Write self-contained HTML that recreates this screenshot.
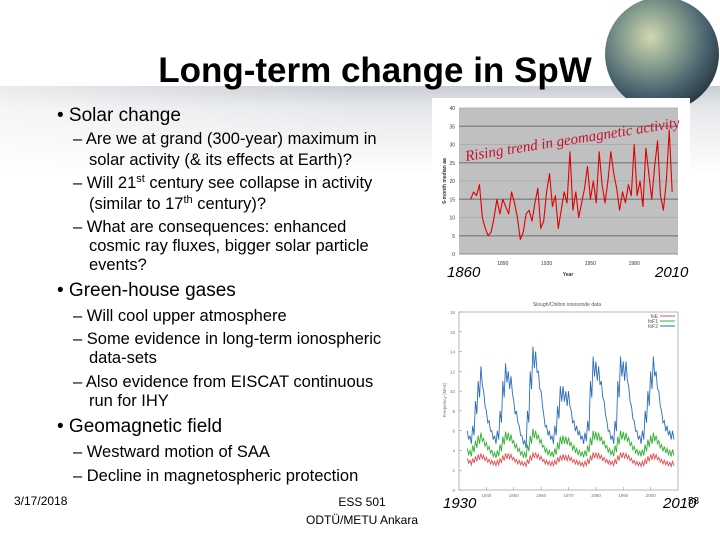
<!DOCTYPE html>
<html><head><meta charset="utf-8"><style>
html,body{margin:0;padding:0;background:#fff}
svg{display:block;font-family:"Liberation Sans",sans-serif}
</style></head><body>
<svg id="s" width="720" height="540" viewBox="0 0 720 540">
<defs>
<linearGradient id="band" x1="0" y1="0" x2="0" y2="1"><stop offset="0" stop-color="#c9cdd2"/><stop offset="0.25" stop-color="#e6e8eb"/><stop offset="1" stop-color="#ffffff"/></linearGradient>
<linearGradient id="bandh" x1="0" y1="0" x2="1" y2="0"><stop offset="0" stop-color="#fff" stop-opacity="0.6"/><stop offset="0.5" stop-color="#fff" stop-opacity="0"/></linearGradient>
<radialGradient id="globe" cx="0.4" cy="0.35" r="0.7"><stop offset="0" stop-color="#d0d8b0"/><stop offset="0.35" stop-color="#8aa090"/><stop offset="0.7" stop-color="#4a6470"/><stop offset="1" stop-color="#26343a"/></radialGradient>
</defs>
<rect x="0" y="86" width="720" height="90" fill="url(#band)"/>
<rect x="0" y="86" width="720" height="90" fill="url(#bandh)"/>
<circle cx="662" cy="54" r="57" fill="url(#globe)"/>
<text x="375" y="82" text-anchor="middle" font-size="35" font-weight="bold" fill="#000">Long-term change in SpW</text>

<g fill="#000">
<text x="57" y="121" font-size="19">• Solar change</text>
<g font-size="16.5">
<text x="73" y="144">– Are we at grand (300-year) maximum in</text>
<text x="89" y="165">solar activity (&amp; its effects at Earth)?</text>
<text x="73" y="188">– Will 21<tspan font-size="11" dy="-6">st</tspan><tspan dy="6"> century see collapse in activity</tspan></text>
<text x="89" y="209">(similar to 17<tspan font-size="11" dy="-6">th</tspan><tspan dy="6"> century)?</tspan></text>
<text x="73" y="232">– What are consequences: enhanced</text>
<text x="89" y="251">cosmic ray fluxes, bigger solar particle</text>
<text x="89" y="270">events?</text>
</g>
<text x="57" y="296" font-size="19">• Green-house gases</text>
<g font-size="16.5">
<text x="73" y="321">– Will cool upper atmosphere</text>
<text x="73" y="344">– Some evidence in long-term ionospheric</text>
<text x="89" y="363">data-sets</text>
<text x="73" y="387">– Also evidence from EISCAT continuous</text>
<text x="89" y="406">run for IHY</text>
</g>
<text x="57" y="432" font-size="19">• Geomagnetic field</text>
<g font-size="16.5">
<text x="73" y="457">– Westward motion of SAA</text>
<text x="73" y="481">– Decline in magnetospheric protection</text>
</g>
</g>
<text x="14" y="505" font-size="12">3/17/2018</text>
<text x="362" y="506" font-size="12" text-anchor="middle">ESS 501</text>
<text x="362" y="524" font-size="12" text-anchor="middle">ODTÜ/METU Ankara</text>

<!-- top chart -->
<rect x="432" y="98" width="258" height="186" fill="#fff"/>
<rect x="459" y="108" width="219" height="146" fill="#c0c0c0"/>
<g id="c1"></g>
<text x="0" y="0" transform="translate(466,161) rotate(-9)" font-family="Liberation Serif,serif" font-style="italic" font-size="15" fill="#c8102e">Rising trend in geomagnetic activity</text>
<text x="447" y="277" font-size="15" font-style="italic">1860</text>
<text x="655" y="277" font-size="15" font-style="italic">2010</text>

<!-- bottom chart -->
<rect x="438" y="294" width="254" height="212" fill="#fff"/>
<text x="567" y="306" font-size="5" text-anchor="middle" fill="#555">Slough/Chilton ionosonde data</text>
<rect x="459" y="312" width="219" height="178" fill="none" stroke="#888" stroke-width="0.6"/>
<g id="c2"></g>
<g font-size="5" fill="#555">
<text x="658" y="318" text-anchor="end">foE</text><line x1="660" y1="316" x2="675" y2="316" stroke="#e05050"/>
<text x="658" y="323" text-anchor="end">foF1</text><line x1="660" y1="321" x2="675" y2="321" stroke="#30b030"/>
<text x="658" y="328" text-anchor="end">foF2</text><line x1="660" y1="326" x2="675" y2="326" stroke="#2c6fb8"/>
</g>
<text x="443" y="508" font-size="15" font-style="italic">1930</text>
<text x="663" y="508" font-size="15" font-style="italic">2010</text>
<text x="688" y="504" font-size="10">58</text>
</svg>
<script>
const NS="http://www.w3.org/2000/svg";
// top chart data
const geoYears=[1868,1870,1872,1874,1876,1878,1880,1882,1884,1886,1888,1890,1892,1894,1896,1898,1900,1902,1904,1906,1908,1910,1912,1914,1916,1918,1920,1922,1924,1926,1928,1930,1932,1934,1936,1938,1940,1942,1944,1946,1948,1950,1952,1954,1956,1958,1960,1962,1964,1966,1968,1970,1972,1974,1976,1978,1980,1982,1984,1986,1988,1990,1992,1994,1996,1998,2000,2002,2004,2006];
const geoValues=[15,17,16,19,10,7,5,6,10,15,11,15,13,11,17,14,10,4,6,11,12,9,14,18,7,9,17,22,13,16,7,12,17,14,28,12,17,10,14,18,24,15,20,14,28,19,14,20,28,22,18,12,17,14,19,16,30,16,20,13,29,22,15,24,31,16,12,20,34,17];
const geoYTicks=[0,5,10,15,20,25,30,35,40];
const geoXTicks=[1890,1920,1950,1980];
// bottom chart data
const ionoYears=[];for(let y=1933;y<=2008;y++)ionoYears.push(y);
const foF2=[6,5.5,6.5,9,11,12.5,10,8,7,6,5.5,6,8,11,12.8,12,11.5,9,8,6.5,5.5,5,8,12,14.5,14,12,10,7.5,6.5,6,5.5,6.5,8.5,10.5,10.5,10,10,8,7,6.5,6,5.5,5.8,7,11,13.5,13,12.5,11,9,7,6,5.5,7,11,13.5,13,13,10.5,8.5,7,6,5.5,6,8,10,12,13.5,12,10,8,7,6.5,6,6];
const foF1=[4.2,4,4.5,5,5.5,5.8,5.2,4.8,4.4,4,3.8,4,4.6,5.4,5.9,5.8,5.6,5,4.6,4.2,3.9,3.8,4.6,5.5,6.2,6,5.6,5.1,4.5,4.2,4,3.9,4.2,4.8,5.4,5.5,5.4,5.3,4.8,4.5,4.2,4,3.9,4,4.5,5.3,6,5.9,5.8,5.4,5,4.5,4.2,4,4.5,5.4,6,5.9,5.8,5.3,4.8,4.4,4.1,4,4.1,4.6,5.1,5.5,5.8,5.5,5,4.6,4.4,4.2,4,4.1];
const foE=[3.2,3,3.2,3.4,3.6,3.7,3.5,3.3,3.1,3,2.9,3,3.2,3.5,3.7,3.7,3.6,3.3,3.1,3,2.9,2.8,3.1,3.5,3.8,3.8,3.6,3.4,3.1,3,2.9,2.9,3,3.3,3.5,3.6,3.5,3.5,3.3,3.1,3,2.9,2.8,2.9,3.1,3.5,3.8,3.8,3.7,3.5,3.3,3.1,3,2.9,3.1,3.5,3.8,3.8,3.7,3.5,3.2,3,2.9,2.8,2.9,3.1,3.4,3.6,3.7,3.6,3.3,3.1,3,2.9,2.8,2.9];
const ionoYTickLabels=["0","2","4","6","8","10","12","14","16","18"];
const ionoXTicks=[1940,1950,1960,1970,1980,1990,2000];

function el(t,a,p){const e=document.createElementNS(NS,t);for(const k in a)e.setAttribute(k,a[k]);p.appendChild(e);return e;}
// chart 1
const c1=document.getElementById('c1');
const x1=y=>459+(y-1860)*(219/150), y1=v=>254-v*(146/40);
geoYTicks.forEach(t=>{
  const l=el('line',{x1:459,x2:678,y1:y1(t),y2:y1(t),stroke:t%10===5?'#888':'#a8a8a8','stroke-width':t%10===5?1.5:0.7},c1);
  
  
  const tx=el('text',{x:455,y:y1(t)+2,'font-size':5,'text-anchor':'end',fill:'#333'},c1);tx.textContent=t;
  
  
});
el('line',{x1:459,x2:678,y1:254,y2:254,stroke:'#666','stroke-width':0.6},c1);
geoXTicks.forEach(t=>{
  const tx=el('text',{x:x1(t),y:265,'font-size':5,'text-anchor':'middle',fill:'#333'},c1);tx.textContent=t;
  
  
});
const yl=el('text',{x:0,y:0,transform:'translate(446,181) rotate(-90)','font-size':5,'text-anchor':'middle','font-weight':'bold',fill:'#333'},c1);yl.textContent='6-month median aa';


const xl=el('text',{x:568,y:276,'font-size':5,'text-anchor':'middle','font-weight':'bold',fill:'#333'},c1);xl.textContent='Year';


const p1=el('polyline',{points:geoYears.map((y,i)=>x1(y)+','+y1(geoValues[i])).join(' '),fill:'none',stroke:'#e00000','stroke-width':1.1,'stroke-linejoin':'round'},c1);


// chart 2
const c2=document.getElementById('c2');
const x2=y=>459+(y-1930)*(219/80), y2=v=>490-v*(178/18);
ionoYTickLabels.forEach((lab,i)=>{
  const v=+lab;
  el('line',{x1:459,x2:462,y1:y2(v),y2:y2(v),stroke:'#888','stroke-width':0.5},c2);
  const tx=el('text',{x:455,y:y2(v)+2,'font-size':4.5,'text-anchor':'end',fill:'#777'},c2);tx.textContent=lab;
  
  
});
ionoXTicks.forEach(t=>{
  el('line',{x1:x2(t),x2:x2(t),y1:490,y2:487,stroke:'#888','stroke-width':0.5},c2);
  const tx=el('text',{x:x2(t),y:497,'font-size':4.5,'text-anchor':'middle',fill:'#777'},c2);tx.textContent=t;
  
  
});
const yl2=el('text',{x:0,y:0,transform:'translate(446,400) rotate(-90)','font-size':4.5,'text-anchor':'middle',fill:'#777'},c2);yl2.textContent='Frequency (MHz)';


[[foE,'#e05050','foE-line'],[foF1,'#30b030','foF1-line'],[foF2,'#2c6fb8','foF2-line']].forEach(([arr,col,nm])=>{
  const pts=[];
  arr.forEach((v,i)=>{pts.push(x2(ionoYears[i])+','+y2(v));pts.push((x2(ionoYears[i])+1.4)+','+y2(v*0.85));});
  const p=el('polyline',{points:pts.join(' '),fill:'none',stroke:col,'stroke-width':0.9},c2);
  
  
});
</script>
</body></html>
